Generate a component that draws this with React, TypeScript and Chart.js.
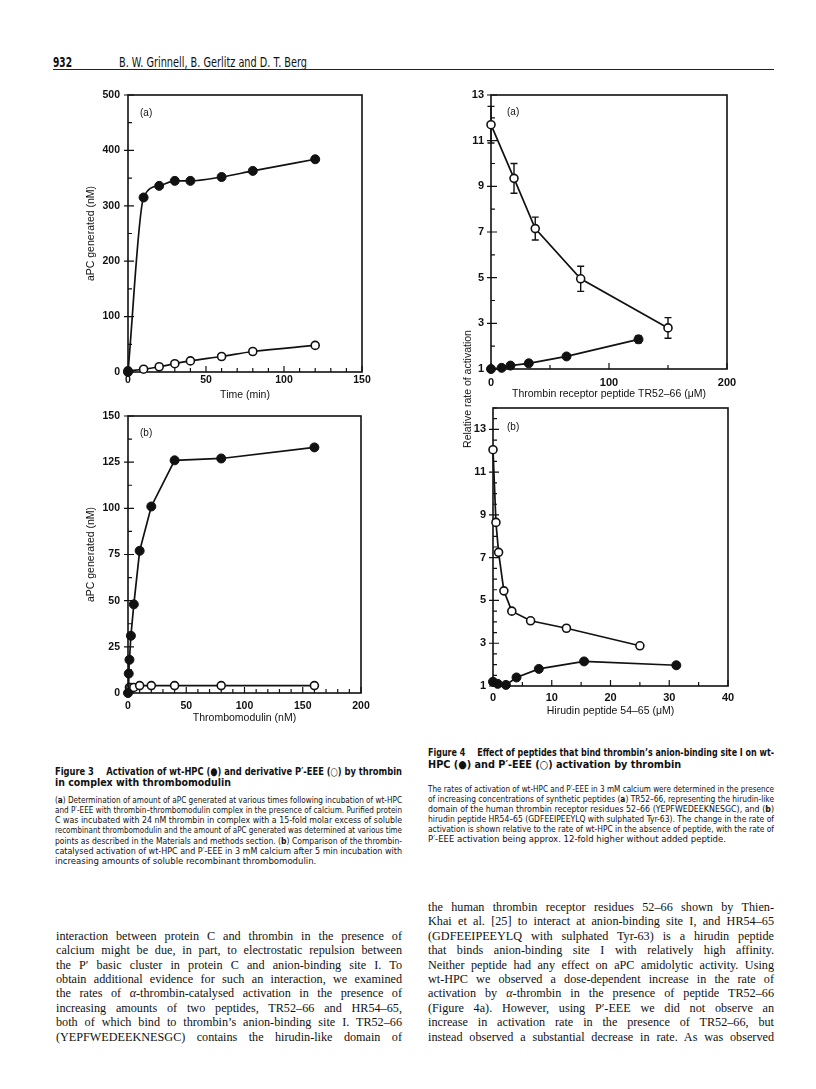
import React, { useEffect, useLayoutEffect, useRef } from 'react';
import { Chart, registerables } from 'chart.js';
Chart.register(...registerables);

const SANS = '"Liberation Sans", Arial, Helvetica, sans-serif';
const NARROW = '"Liberation Sans Narrow", "Arial Narrow", "DejaVu Sans Condensed", "Liberation Sans", sans-serif';
const SERIF = '"Liberation Serif", "Times New Roman", serif';
const INK = '#111';

// ---------- Figure 3a: aPC generated (nM) vs time (min)
const fig3aTime = [0, 10, 20, 30, 40, 60, 80, 120];
const fig3aWtHPC = [0, 315, 336, 345, 345, 352, 363, 384];
const fig3aPEEE = [2, 5, 9.5, 15, 20, 28, 37, 48];
const fig3aXTicks = [0, 50, 100, 150];
const fig3aYTicks = [0, 100, 200, 300, 400, 500];

// ---------- Figure 3b: aPC generated (nM) vs thrombomodulin (nM)
const fig3bTmWt = [0, 0.625, 1.25, 2.5, 5, 10, 20, 40, 80, 160];
const fig3bWtHPC = [0, 10.5, 18, 31, 48, 77, 101, 126, 127, 133];
const fig3bTmEEE = [1.25, 2.5, 5, 10, 20, 40, 80, 160];
const fig3bPEEE = [3, 3, 3, 4, 4, 4, 4, 4];
const fig3bXTicks = [0, 50, 100, 150, 200];
const fig3bYTicks = [0, 25, 50, 75, 100, 125, 150];

// ---------- Figure 4a: relative rate vs TR52-66 (uM)
const fig4aConcWt = [0, 9, 16.5, 32, 64, 125];
const fig4aWtHPC = [1.0, 1.05, 1.15, 1.25, 1.55, 2.3];
const fig4aWtErr = [0, 0, 0.1, 0, 0, 0.15];
const fig4aConcEEE = [0, 19.5, 37.5, 76, 150];
const fig4aPEEE = [11.7, 9.35, 7.15, 4.95, 2.8];
const fig4aEEEErr = [0.8, 0.65, 0.5, 0.55, 0.45];
const fig4aXTicks = [0, 100, 200];
const fig4aYTicks = [1, 3, 5, 7, 9, 11, 13];

// ---------- Figure 4b: relative rate vs hirudin peptide 54-65 (uM)
const fig4bConcWt = [0, 0.8, 2.2, 4.0, 7.8, 15.5, 31.2];
const fig4bWtHPC = [1.2, 1.1, 1.05, 1.4, 1.8, 2.15, 1.97];
const fig4bConcEEE = [0, 0.5, 0.95, 1.85, 3.2, 6.4, 12.5, 25];
const fig4bPEEE = [12.05, 8.65, 7.25, 5.45, 4.5, 4.05, 3.7, 2.88];
const fig4bXTicks = [0, 10, 20, 30, 40];
const fig4bYTicks = [1, 3, 5, 7, 9, 11, 13];

const pts = (xs: number[], ys: number[]) => xs.map((x, i) => ({ x, y: ys[i] }));

const filled = (xs: number[], ys: number[], smooth = false, r = 4.5) => ({
  data: pts(xs, ys),
  borderColor: INK,
  borderWidth: 1.7,
  pointRadius: r,
  pointBackgroundColor: INK,
  pointBorderColor: INK,
  pointBorderWidth: 1,
  clip: false,
  cubicInterpolationMode: smooth ? 'monotone' : 'default',
  tension: 0,
});
const open = (xs: number[], ys: number[], smooth = false, r = 4) => ({
  data: pts(xs, ys),
  borderColor: INK,
  borderWidth: 1.7,
  pointRadius: r,
  pointBackgroundColor: '#fff',
  pointBorderColor: INK,
  pointBorderWidth: 1.6,
  clip: false,
  cubicInterpolationMode: smooth ? 'monotone' : 'default',
  tension: 0,
});

type Spec = {
  plot: { l: number; t: number; r: number; b: number };
  xMin: number; xMax: number; xTicks: number[]; xMinor: number;
  yMin: number; yMax: number; yTicks: number[]; yMinor: number;
  xTitle: string; yTitle?: string; yTitleX?: number;
  tickSize: number; titleSize: number; yLabelPad: number;
  xLabelOff: number; xTitleOff: number;
  datasets: any[];
  errors?: { xs: number[]; ys: number[]; errs: number[] }[];
};

const specs: Spec[] = [
  {
    plot: { l: 128, t: 95, r: 362, b: 372 },
    xMin: 0, xMax: 150, xTicks: fig3aXTicks, xMinor: 10,
    yMin: 0, yMax: 500, yTicks: fig3aYTicks, yMinor: 50,
    xTitle: 'Time (min)', yTitle: 'aPC generated (nM)', yTitleX: 91,
    tickSize: 10.5, titleSize: 10.5, yLabelPad: 8, xLabelOff: 8.5, xTitleOff: 23,
    datasets: [filled(fig3aTime, fig3aWtHPC, true), open(fig3aTime, fig3aPEEE, true)],
  },
  {
    plot: { l: 128, t: 416, r: 361, b: 693 },
    xMin: 0, xMax: 200, xTicks: fig3bXTicks, xMinor: 10,
    yMin: 0, yMax: 150, yTicks: fig3bYTicks, yMinor: 12.5,
    xTitle: 'Thrombomodulin (nM)', yTitle: 'aPC generated (nM)', yTitleX: 91,
    tickSize: 10.5, titleSize: 10.5, yLabelPad: 8, xLabelOff: 13.5, xTitleOff: 25.5,
    datasets: [filled(fig3bTmWt, fig3bWtHPC), open(fig3bTmEEE, fig3bPEEE)],
  },
  {
    plot: { l: 491, t: 95, r: 727, b: 369 },
    xMin: 0, xMax: 200, xTicks: fig4aXTicks, xMinor: 50,
    yMin: 1, yMax: 13, yTicks: fig4aYTicks, yMinor: 1,
    xTitle: 'Thrombin receptor peptide TR52\u201366 (\u03bcM)',
    tickSize: 11, titleSize: 10.5, yLabelPad: 7, xLabelOff: 14, xTitleOff: 25,
    datasets: [filled(fig4aConcWt, fig4aWtHPC), open(fig4aConcEEE, fig4aPEEE)],
    errors: [
      { xs: fig4aConcWt, ys: fig4aWtHPC, errs: fig4aWtErr },
      { xs: fig4aConcEEE, ys: fig4aPEEE, errs: fig4aEEEErr },
    ],
  },
  {
    plot: { l: 493, t: 408, r: 728, b: 686 },
    xMin: 0, xMax: 40, xTicks: fig4bXTicks, xMinor: 5,
    yMin: 1, yMax: 14, yTicks: fig4bYTicks, yMinor: 0.5,
    xTitle: 'Hirudin peptide 54\u201365 (\u03bcM)',
    tickSize: 11, titleSize: 10.5, yLabelPad: 7, xLabelOff: 12, xTitleOff: 25,
    datasets: [filled(fig4bConcWt, fig4bWtHPC), open(fig4bConcEEE, fig4bPEEE)],
  },
];

const PAD_L = 50, PAD_T = 12, PAD_R = 16, PAD_B = 36;

function Plot({ spec }: { spec: Spec }) {
  const ref = useRef<HTMLCanvasElement>(null);
  const cl = spec.plot.l - PAD_L, ct = spec.plot.t - PAD_T;
  const W = spec.plot.r + PAD_R - cl, H = spec.plot.b + PAD_B - ct;
  useEffect(() => {
    const tickLh = spec.tickSize * 1.2, titleLh = spec.titleSize * 1.2;
    const near = (a: number[], v: number) => a.some((t) => Math.abs(t - v) < 1e-6);
    const decor = {
      id: 'decor',
      beforeDatasetsDraw(chart: any) {
        const { ctx, chartArea: a, scales } = chart;
        const x = scales.x, y = scales.y;
        ctx.save();
        ctx.strokeStyle = INK;
        ctx.lineWidth = 1.6;
        ctx.strokeRect(a.left, a.top, a.right - a.left, a.bottom - a.top);
        ctx.lineWidth = 1.2;
        ctx.beginPath();
        for (let v = spec.xMin; v <= spec.xMax + 1e-6; v += spec.xMinor) {
          const px = x.getPixelForValue(v);
          const major = near(spec.xTicks, v);
          ctx.moveTo(px, a.bottom);
          ctx.lineTo(px, a.bottom - (major ? 6 : 4));
        }
        for (let v = spec.yMin; v <= spec.yMax + 1e-6; v += spec.yMinor) {
          const py = y.getPixelForValue(v);
          if (near(spec.yTicks, v)) {
            ctx.moveTo(a.left - 4, py);
            ctx.lineTo(a.left + 6, py);
          } else {
            ctx.moveTo(a.left, py);
            ctx.lineTo(a.left + 4, py);
          }
        }
        ctx.stroke();
        ctx.lineWidth = 1.4;
        ctx.beginPath();
        (spec.errors || []).forEach((e) => {
          e.xs.forEach((xv, i) => {
            const err = e.errs[i];
            if (!err) return;
            const px = x.getPixelForValue(xv);
            const p1 = y.getPixelForValue(e.ys[i] + err);
            const p2 = y.getPixelForValue(e.ys[i] - err);
            ctx.moveTo(px, p1); ctx.lineTo(px, p2);
            ctx.moveTo(px - 3.5, p1); ctx.lineTo(px + 3.5, p1);
            ctx.moveTo(px - 3.5, p2); ctx.lineTo(px + 3.5, p2);
          });
        });
        ctx.stroke();
        ctx.restore();
      },
    };
    const chart = new Chart(ref.current as HTMLCanvasElement, {
      type: 'line',
      data: { datasets: spec.datasets },
      options: {
        responsive: false,
        animation: false,
        events: [],
        layout: { padding: { top: PAD_T, right: PAD_R, left: 0, bottom: 0 } },
        plugins: { legend: { display: false }, tooltip: { enabled: false } },
        scales: {
          x: {
            type: 'linear',
            min: spec.xMin,
            max: spec.xMax,
            grid: { display: false, drawTicks: false },
            border: { display: false },
            ticks: {
              font: { family: SANS, size: spec.tickSize, weight: 'bold' },
              color: INK,
              padding: spec.xLabelOff - tickLh / 2,
              maxRotation: 0,
              autoSkip: false,
            },
            afterBuildTicks: (s: any) => { s.ticks = spec.xTicks.map((v) => ({ value: v })); },
            afterFit: (s: any) => { s.height = PAD_B; s.paddingLeft = 0; s.paddingRight = 0; },
            title: {
              display: true,
              text: spec.xTitle,
              font: { family: SANS, size: spec.titleSize },
              color: INK,
              padding: { top: 0, bottom: PAD_B - spec.xTitleOff - titleLh / 2 },
            },
          },
          y: {
            type: 'linear',
            min: spec.yMin,
            max: spec.yMax,
            grid: { display: false, drawTicks: false },
            border: { display: false },
            ticks: {
              font: { family: SANS, size: spec.tickSize, weight: 'bold' },
              color: INK,
              padding: spec.yLabelPad,
              autoSkip: false,
            },
            afterBuildTicks: (s: any) => { s.ticks = spec.yTicks.map((v) => ({ value: v })); },
            afterFit: (s: any) => { s.width = PAD_L; s.paddingTop = 0; s.paddingBottom = 0; },
            title: {
              display: !!spec.yTitle,
              text: spec.yTitle || '',
              font: { family: SANS, size: spec.titleSize },
              color: INK,
              padding: { top: (spec.yTitleX || 0) - cl - titleLh / 2, bottom: 0 },
            },
          },
        },
      } as any,
      plugins: [decor],
    });
    return () => chart.destroy();
  }, []);
  return (
    <canvas
      ref={ref}
      width={W}
      height={H}
      style={{ position: 'absolute', left: cl, top: ct, width: W, height: H }}
    />
  );
}

// ---------- text
function Rich({ text }: { text: string }) {
  const parts = text.split(/(\*\*[^*]+\*\*|__[^_]+__)/);
  return (
    <>
      {parts.map((p, i) => {
        if (p.startsWith('**')) return <b key={i}>{p.slice(2, -2)}</b>;
        if (p.startsWith('__')) return <i key={i}>{p.slice(2, -2)}</i>;
        return <React.Fragment key={i}>{p}</React.Fragment>;
      })}
    </>
  );
}

type Block = {
  x: number; y: number; width: number; lineH: number;
  family: string; size: number; weight?: number;
  lines: string[]; lastLeft?: boolean;
};

function TextBlock({ b }: { b: Block }) {
  return (
    <div
      style={{
        position: 'absolute',
        left: b.x,
        top: b.y - b.lineH / 2,
        width: b.width,
        fontFamily: b.family,
        fontSize: b.size,
        fontWeight: b.weight || 400,
        lineHeight: b.lineH + 'px',
        color: INK,
      }}
    >
      {b.lines.map((l, i) => (
        <div key={i} style={{ height: b.lineH, whiteSpace: 'nowrap' }}>
          <span
            data-fit={b.width}
            data-mode={b.lastLeft && i === b.lines.length - 1 ? 'left' : 'justify'}
            style={{ display: 'inline-block', transformOrigin: '0 50%' }}
          >
            <Rich text={l} />
          </span>
        </div>
      ))}
    </div>
  );
}

function Fit({ x, y, width, size, family, weight, text }: any) {
  return (
    <div style={{ position: 'absolute', left: x, top: y - size * 0.6, fontFamily: family, fontSize: size, fontWeight: weight, lineHeight: size * 1.2 + 'px', whiteSpace: 'nowrap', color: INK }}>
      <span data-fit={width} data-mode="scale" style={{ display: 'inline-block', transformOrigin: '0 50%' }}>{text}</span>
    </div>
  );
}

const fig3Heading: Block = {
  x: 55, y: 771, width: 347, lineH: 11, family: NARROW, size: 10.5, weight: 700, lastLeft: true,
  lines: [
    'Figure 3\u2003\u2002Activation of wt-HPC (\u25cf) and derivative P\u2032-EEE (\u25cb) by thrombin',
    'in complex with thrombomodulin',
  ],
};
const fig3Caption: Block = {
  x: 55, y: 800, width: 347, lineH: 10.2, family: NARROW, size: 9.5, lastLeft: true,
  lines: [
    '(**a**) Determination of amount of aPC generated at various times following incubation of wt-HPC',
    'and P\u2032-EEE with thrombin\u2013thrombomodulin complex in the presence of calcium. Purified protein',
    'C was incubated with 24 nM thrombin in complex with a 15-fold molar excess of soluble',
    'recombinant thrombomodulin and the amount of aPC generated was determined at various time',
    'points as described in the Materials and methods section. (**b**) Comparison of the thrombin-',
    'catalysed activation of wt-HPC and P\u2032-EEE in 3 mM calcium after 5 min incubation with',
    'increasing amounts of soluble recombinant thrombomodulin.',
  ],
};
const fig4Heading: Block = {
  x: 428, y: 753, width: 346, lineH: 11.3, family: NARROW, size: 10.8, weight: 700, lastLeft: true,
  lines: [
    'Figure 4\u2003\u2002Effect of peptides that bind thrombin\u2019s anion-binding site I on wt-',
    'HPC (\u25cf) and P\u2032-EEE (\u25cb) activation by thrombin',
  ],
};
const fig4Caption: Block = {
  x: 428, y: 789, width: 346, lineH: 10, family: NARROW, size: 9.5, lastLeft: true,
  lines: [
    'The rates of activation of wt-HPC and P\u2032-EEE in 3 mM calcium were determined in the presence',
    'of increasing concentrations of synthetic peptides (**a**) TR52\u201366, representing the hirudin-like',
    'domain of the human thrombin receptor residues 52\u201366 (YEPFWEDEEKNESGC), and (**b**)',
    'hirudin peptide HR54\u201365 (GDFEEIPEEYLQ with sulphated Tyr-63). The change in the rate of',
    'activation is shown relative to the rate of wt-HPC in the absence of peptide, with the rate of',
    'P\u2032-EEE activation being approx. 12-fold higher without added peptide.',
  ],
};
const bodyLeft: Block = {
  x: 56, y: 936, width: 346, lineH: 14.43, family: SERIF, size: 12.2,
  lines: [
    'interaction between protein C and thrombin in the presence of',
    'calcium might be due, in part, to electrostatic repulsion between',
    'the P\u2032 basic cluster in protein C and anion-binding site I. To',
    'obtain additional evidence for such an interaction, we examined',
    'the rates of __\u03b1__-thrombin-catalysed activation in the presence of',
    'increasing amounts of two peptides, TR52\u201366 and HR54\u201365,',
    'both of which bind to thrombin\u2019s anion-binding site I. TR52\u201366',
    '(YEPFWEDEEKNESGC) contains the hirudin-like domain of',
  ],
};
const bodyRight: Block = {
  x: 428, y: 907, width: 346, lineH: 14.44, family: SERIF, size: 12.2,
  lines: [
    'the human thrombin receptor residues 52\u201366 shown by Thien-',
    'Khai et al. [25] to interact at anion-binding site I, and HR54\u201365',
    '(GDFEEIPEEYLQ with sulphated Tyr-63) is a hirudin peptide',
    'that binds anion-binding site I with relatively high affinity.',
    'Neither peptide had any effect on aPC amidolytic activity. Using',
    'wt-HPC we observed a dose-dependent increase in the rate of',
    'activation by __\u03b1__-thrombin in the presence of peptide TR52\u201366',
    '(Figure 4a). However, using P\u2032-EEE we did not observe an',
    'increase in activation rate in the presence of TR52\u201366, but',
    'instead observed a substantial decrease in rate. As was observed',
  ],
};

const panelLabels = [
  { text: '(a)', x: 140, y: 113 },
  { text: '(b)', x: 140, y: 433 },
  { text: '(a)', x: 507, y: 112 },
  { text: '(b)', x: 507, y: 427 },
];

export default function App() {
  const root = useRef<HTMLDivElement>(null);
  useLayoutEffect(() => {
    const els = root.current!.querySelectorAll<HTMLElement>('[data-fit]');
    els.forEach((el) => {
      const target = Number(el.dataset.fit);
      const mode = el.dataset.mode;
      el.style.wordSpacing = '';
      el.style.transform = '';
      const w = el.getBoundingClientRect().width;
      if (mode === 'scale') {
        el.style.transform = `scaleX(${target / w})`;
        return;
      }
      if (w > target) {
        el.style.transform = `scaleX(${target / w})`;
      } else if (mode === 'justify') {
        const n = (el.textContent || '').split(' ').length - 1;
        if (n > 0) el.style.wordSpacing = `${(target - w) / n}px`;
      }
    });
  }, []);
  return (
    <div ref={root} style={{ position: 'absolute', left: 0, top: 0, width: 816, height: 1089, background: '#fff', overflow: 'hidden' }}>
      <Fit x={53} y={62.5} width={19} size={14} family={NARROW} weight={700} text="932" />
      <Fit x={119} y={62.5} width={188} size={14} family={NARROW} weight={400} text="B. W. Grinnell, B. Gerlitz and D. T. Berg" />
      <div style={{ position: 'absolute', left: 53, top: 68.5, width: 721, height: 0, borderTop: '1.5px solid #222' }} />

      {specs.map((s, i) => <Plot key={i} spec={s} />)}

      {panelLabels.map((p, i) => (
        <div key={i} style={{ position: 'absolute', left: p.x, top: p.y - 6, fontFamily: SANS, fontSize: 10, lineHeight: '12px', color: INK }}>{p.text}</div>
      ))}

      <div style={{ position: 'absolute', left: 467 - 80, top: 389 - 7, width: 160, height: 14, lineHeight: '14px', textAlign: 'center', transform: 'rotate(-90deg)', transformOrigin: '50% 50%', fontFamily: SANS, fontSize: 10.5, color: INK, whiteSpace: 'nowrap' }}>
        Relative rate of activation
      </div>

      <TextBlock b={fig3Heading} />
      <TextBlock b={fig3Caption} />
      <TextBlock b={fig4Heading} />
      <TextBlock b={fig4Caption} />
      <TextBlock b={bodyLeft} />
      <TextBlock b={bodyRight} />
    </div>
  );
}
